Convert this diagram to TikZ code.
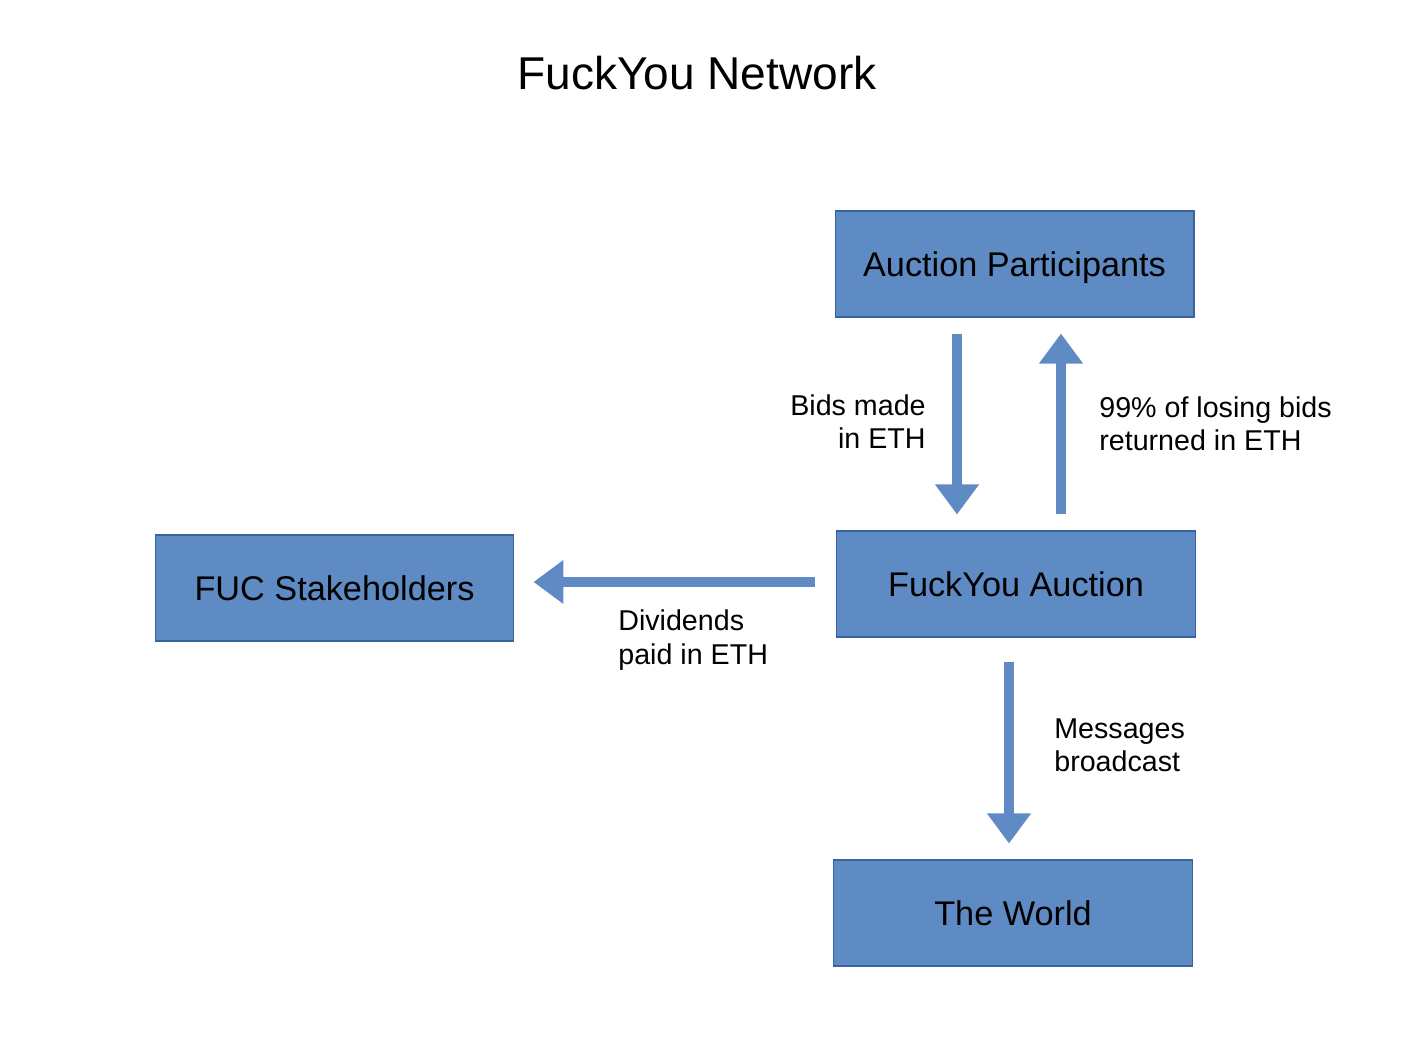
\documentclass[tikz,border=0pt]{standalone}
\usepackage{fontspec}
\setmainfont{Liberation Sans}
\usetikzlibrary{arrows.meta}
\definecolor{boxblue}{RGB}{95,139,196}
\definecolor{boxedge}{RGB}{56,98,160}
\definecolor{flowblue}{RGB}{96,138,196}
\begin{document}
\begin{tikzpicture}[x=0.02cm, y=-0.02cm,
    block/.style={rectangle, draw=boxedge, line width=0.6pt, fill=boxblue, minimum width=7.18cm, minimum height=2.12cm, align=center, font=\fontsize{19.5}{23}\selectfont},
    flow/.style={draw=flowblue, line width=0.2cm, -{Triangle[width=0.84cm, length=0.6cm]}, shorten >=0.32cm, shorten <=0.32cm},
    lbl/.style={inner sep=0pt, font=\fontsize{16.3}{18.9}\selectfont}
]
    \useasboundingbox (0,0) rectangle (1411,1058);

    % Title
    \node (title) at (697,73) {\fontsize{26.2}{31}\selectfont FuckYou Network};

    % Boxes
    \node[block, text depth=0pt] (participants) at (1014.5,264) {Auction Participants};
    \node[block] (auction) at (1016,584) {FuckYou Auction};
    \node[block] (stakeholders) at (334.5,588) {FUC Stakeholders};
    \node[block] (world) at (1013,913) {The World};

    % Arrows between participants and auction
    \draw[flow] ([xshift=-1.15cm]participants.south) -- ([xshift=-1.15cm]participants.south |- auction.north);
    \draw[flow] ([xshift=0.9cm]auction.north) -- ([xshift=0.9cm]auction.north |- participants.south);

    % Arrows out of the auction
    \draw[flow, shorten >=0.38cm, shorten <=0.42cm] ([yshift=0.04cm]auction.west) -- ([yshift=0.04cm]auction.west -| stakeholders.east);
    \draw[flow, shorten <=0.48cm] ([xshift=-0.14cm]auction.south) -- ([xshift=-0.14cm]auction.south |- world.north);

    % Labels
    \node[lbl, anchor=east, align=right] (bids) at (926,422) {Bids made\\in ETH};
    \node[lbl, anchor=west, align=left] (refund) at (1099,424) {99\% of losing bids\\returned in ETH};
    \node[lbl, anchor=west, align=left] (dividends) at (618,640) {Dividends\\paid in ETH};
    \node[lbl, anchor=west, align=left] (messages) at (1054,745) {Messages\\broadcast};
\end{tikzpicture}
\end{document}
